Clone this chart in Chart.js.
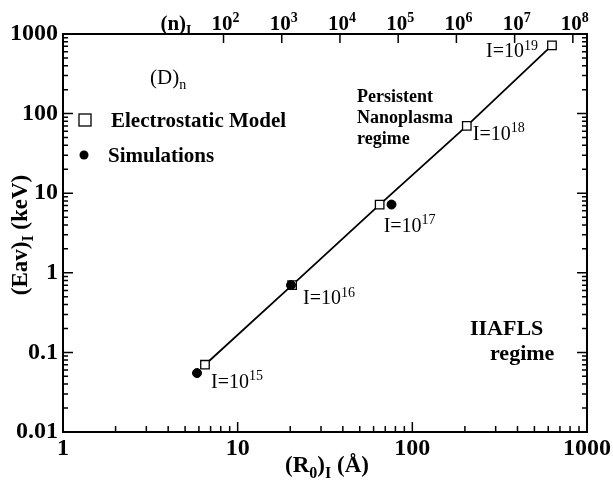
<!DOCTYPE html>
<html>
<head>
    <meta charset="UTF-8">
    <title>Deuterium clusters: average ion energy vs cluster radius</title>
    <script src="https://cdn.jsdelivr.net/npm/chart.js"></script>
    <style>
        body { margin: 0; background: #fff; }
    </style>
</head>
<body>
    <canvas id="chart" width="613" height="480"></canvas>

    <script>
        // electrostatic model, one point per laser intensity I = 10^exp W/cm2
        const intensityExp = [15, 16, 17, 18, 19];
        const modelR0 = [6.5, 20.5, 65, 205, 630];
        const modelEav = [0.07, 0.7, 7.2, 70, 720];

        // simulation results
        const simR0 = [5.85, 20.2, 76];
        const simEav = [0.055, 0.7, 7.2];

        // top axis: cluster size n = nPerR3 * R0^3
        const nPerR3 = 0.175;
        const nTickExp = [2, 3, 4, 5, 6, 7, 8];

        const xTicks = [1, 10, 100, 1000];
        const yTicks = [0.01, 0.1, 1, 10, 100, 1000];

        // where each "I=10^x" label sits relative to its square (px offset, alignment)
        const labelOffsets = [[6, 23, 'left'], [11, 19, 'left'], [4, 27, 'left'], [6, 14, 'left'], [-14, 12, 'right']];

        const SERIF = '"Liberation Serif", "Times New Roman", serif';

        function fontStr(size, bold) {
            return (bold ? 'bold ' : '') + size + 'px ' + SERIF;
        }

        // text made of runs, each run plain, 'sup' or 'sub'
        function drawRich(ctx, parts, x, y, size, bold, align) {
            const widths = parts.map(p => {
                ctx.font = fontStr(p[1] ? Math.round(size * 0.68) : size, bold);
                return ctx.measureText(p[0]).width;
            });
            const total = widths.reduce((a, b) => a + b, 0);
            let cx = align === 'center' ? x - total / 2 : align === 'right' ? x - total : x;
            ctx.textAlign = 'left';
            ctx.textBaseline = 'alphabetic';
            parts.forEach((p, i) => {
                ctx.font = fontStr(p[1] ? Math.round(size * 0.68) : size, bold);
                const dy = p[1] === 'sup' ? -size * 0.38 : p[1] === 'sub' ? size * 0.24 : 0;
                ctx.fillText(p[0], cx, y + dy);
                cx += widths[i];
            });
        }

        function minorValues(lo, hi) {
            const out = [];
            for (let d = Math.log10(lo); d < Math.log10(hi); d++) {
                for (let k = 2; k <= 9; k++) out.push(k * Math.pow(10, d));
            }
            return out;
        }

        const frameAndLabels = {
            id: 'frameAndLabels',
            afterDraw(chart) {
                const ctx = chart.ctx;
                const a = chart.chartArea;
                const xs = chart.scales.x;
                const ys = chart.scales.y;
                ctx.save();
                ctx.strokeStyle = '#000';
                ctx.fillStyle = '#000';

                // frame
                ctx.lineWidth = 2;
                ctx.strokeRect(a.left, a.top, a.right - a.left, a.bottom - a.top);

                // inward ticks
                ctx.lineWidth = 1.5;
                ctx.beginPath();
                xTicks.forEach(v => {
                    const px = xs.getPixelForValue(v);
                    ctx.moveTo(px, a.bottom); ctx.lineTo(px, a.bottom - 10);
                });
                minorValues(1, 1000).forEach(v => {
                    const px = xs.getPixelForValue(v);
                    ctx.moveTo(px, a.bottom); ctx.lineTo(px, a.bottom - 6);
                });
                yTicks.forEach(v => {
                    const py = ys.getPixelForValue(v);
                    ctx.moveTo(a.left, py); ctx.lineTo(a.left + 10, py);
                    ctx.moveTo(a.right, py); ctx.lineTo(a.right - 10, py);
                });
                minorValues(0.01, 1000).forEach(v => {
                    const py = ys.getPixelForValue(v);
                    ctx.moveTo(a.left, py); ctx.lineTo(a.left + 5, py);
                    ctx.moveTo(a.right, py); ctx.lineTo(a.right - 5, py);
                });
                // top axis ticks for n
                nTickExp.forEach(e => {
                    const px = xs.getPixelForValue(Math.cbrt(Math.pow(10, e) / nPerR3));
                    ctx.moveTo(px, a.top); ctx.lineTo(px, a.top + 9);
                });
                ctx.stroke();

                // top axis labels
                nTickExp.forEach(e => {
                    const px = xs.getPixelForValue(Math.cbrt(Math.pow(10, e) / nPerR3));
                    drawRich(ctx, [['10'], [String(e), 'sup']], px + 2, a.top - 4, 21, true, 'center');
                });
                drawRich(ctx, [['(n)'], ['I', 'sub']], 176, a.top - 4, 21, true, 'center');

                // axis titles
                drawRich(ctx, [['(R'], ['0', 'sub'], [')'], ['I', 'sub'], [' (Å)']], (a.left + a.right) / 2 + 2, 472, 23, true, 'center');
                ctx.save();
                ctx.translate(27, (a.top + a.bottom) / 2 + 2);
                ctx.rotate(-Math.PI / 2);
                drawRich(ctx, [['(Eav)'], ['I', 'sub'], [' (keV)']], 0, 0, 23, true, 'center');
                ctx.restore();

                // intensity labels next to the model points
                intensityExp.forEach((e, i) => {
                    const px = xs.getPixelForValue(modelR0[i]);
                    const py = ys.getPixelForValue(modelEav[i]);
                    const off = labelOffsets[i];
                    drawRich(ctx, [['I=10'], [String(e), 'sup']], px + off[0], py + off[1], 20, false, off[2]);
                });

                // legend
                ctx.lineWidth = 1.3;
                ctx.fillStyle = '#fff';
                ctx.fillRect(79, 114, 12, 12);
                ctx.strokeRect(79, 114, 12, 12);
                ctx.fillStyle = '#000';
                ctx.beginPath();
                ctx.arc(84, 155, 4.5, 0, Math.PI * 2);
                ctx.fill();
                drawRich(ctx, [['Electrostatic Model']], 111, 127, 21, true, 'left');
                drawRich(ctx, [['Simulations']], 108, 162, 21, true, 'left');
                drawRich(ctx, [['(D)'], ['n', 'sub']], 150, 84, 21, false, 'left');

                // regime notes
                drawRich(ctx, [['Persistent']], 357, 102, 18, true, 'left');
                drawRich(ctx, [['Nanoplasma']], 357, 123, 18, true, 'left');
                drawRich(ctx, [['regime']], 357, 144, 18, true, 'left');
                drawRich(ctx, [['IIAFLS']], 470, 335, 22, true, 'left');
                drawRich(ctx, [['regime']], 490, 360, 22, true, 'left');

                ctx.restore();
            }
        };

        const ctx = document.getElementById('chart').getContext('2d');
        new Chart(ctx, {
            type: 'line',
            data: {
                datasets: [{
                    label: 'Simulations',
                    data: simR0.map((r, i) => ({ x: r, y: simEav[i] })),
                    showLine: false,
                    pointStyle: 'circle',
                    pointRadius: 4.5,
                    pointBackgroundColor: '#000',
                    pointBorderColor: '#000',
                    order: 0
                }, {
                    label: 'Electrostatic Model',
                    data: modelR0.map((r, i) => ({ x: r, y: modelEav[i] })),
                    borderColor: '#000',
                    borderWidth: 1.8,
                    tension: 0,
                    pointStyle: 'rect',
                    pointRadius: 6,
                    pointBackgroundColor: '#fff',
                    pointBorderColor: '#000',
                    pointBorderWidth: 1.3,
                    order: 1
                }]
            },
            options: {
                responsive: false,
                animation: false,
                devicePixelRatio: 1,
                layout: { padding: { top: 34, right: 26, left: 0, bottom: 0 } },
                plugins: {
                    legend: { display: false },
                    tooltip: { enabled: false }
                },
                scales: {
                    x: {
                        type: 'logarithmic',
                        min: 1,
                        max: 1000,
                        grid: { display: false, drawTicks: false },
                        border: { display: false },
                        afterBuildTicks: s => { s.ticks = xTicks.map(v => ({ value: v })); },
                        afterFit: s => { s.height = 48; },
                        ticks: {
                            color: '#000',
                            font: { family: SERIF, size: 24, weight: 'bold' },
                            maxRotation: 0,
                            padding: 2,
                            callback: v => String(v)
                        }
                    },
                    y: {
                        type: 'logarithmic',
                        min: 0.01,
                        max: 1000,
                        grid: { display: false, drawTicks: false },
                        border: { display: false },
                        afterBuildTicks: s => { s.ticks = yTicks.map(v => ({ value: v })); },
                        afterFit: s => { s.width = 63; },
                        ticks: {
                            color: '#000',
                            font: { family: SERIF, size: 24, weight: 'bold' },
                            padding: 5,
                            callback: v => String(v)
                        }
                    }
                }
            },
            plugins: [frameAndLabels]
        });
    </script>
</body>
</html>
